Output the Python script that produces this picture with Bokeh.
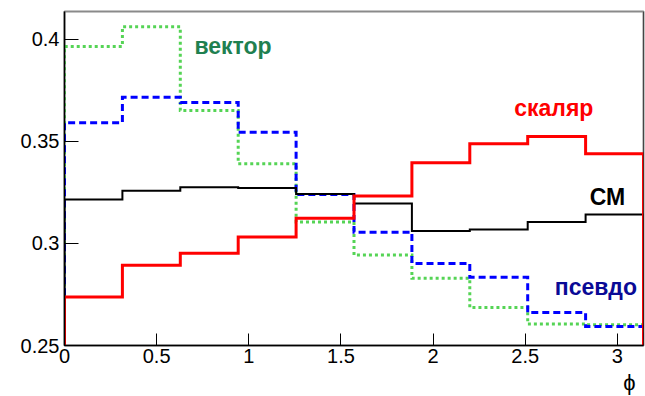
import numpy as np
from bokeh.plotting import figure
from bokeh.models import Label, Span, FixedTicker, Range1d, Title
from bokeh.embed import file_html
from bokeh.resources import INLINE

# Angular distribution of phi, 10 bins over [0, pi]
phi_min, phi_max = 0.0, np.pi
n_bins = 10

sm = [0.3215, 0.3257, 0.3275, 0.3271, 0.3242, 0.3195, 0.3061, 0.3068, 0.3105, 0.3141]
scalar = [0.2738, 0.2893, 0.2951, 0.3031, 0.3123, 0.3232, 0.3395, 0.3488, 0.3523, 0.3439]
pseudo = [0.3590, 0.3715, 0.3689, 0.3544, 0.3239, 0.3054, 0.2902, 0.2834, 0.2661, 0.2593]
vector = [0.3964, 0.4060, 0.3650, 0.3390, 0.3105, 0.2943, 0.2829, 0.2686, 0.2605, 0.2601]

x_ticks = [0, 0.5, 1, 1.5, 2, 2.5, 3]
x_tick_labels = ["0", "0.5", "1", "1.5", "2", "2.5", "3"]
y_ticks = [0.25, 0.3, 0.35, 0.4]
y_tick_labels = ["0.25", "0.3", "0.35", "0.4"]

edges = np.linspace(phi_min, phi_max, n_bins + 1)


def hist_outline(vals):
    """Outline of a histogram drawn as in 'HIST' mode, dropping to zero at both ends."""
    xs, ys = [edges[0]], [0.0]
    for i, v in enumerate(vals):
        xs += [edges[i], edges[i + 1]]
        ys += [v, v]
    xs.append(edges[-1])
    ys.append(0.0)
    return xs, ys


FONT = "Liberation Sans"

p = figure(width=645, height=396, output_backend="svg", toolbar_location=None,
           x_range=Range1d(phi_min, phi_max), y_range=Range1d(0.25, 0.4135),
           min_border_left=64, min_border_right=2, min_border_top=11, min_border_bottom=50)

p.grid.visible = False
p.background_fill_color = "white"
p.border_fill_color = "white"
p.outline_line_color = "#8a8a8a"
p.outline_line_width = 2

for ax in (p.xaxis[0], p.yaxis[0]):
    ax.axis_line_color = "black"
    ax.axis_line_width = 1.5
    ax.major_tick_line_color = "black"
    ax.major_tick_out = 0
    ax.minor_tick_line_color = None
    ax.major_label_text_font = FONT
    ax.major_label_text_font_size = "20px"
    ax.major_label_text_color = "black"

p.xaxis.ticker = FixedTicker(ticks=x_ticks)
p.xaxis.major_label_overrides = dict(zip(x_ticks, x_tick_labels))
p.xaxis.major_tick_in = 12
p.xaxis.major_label_standoff = 3

p.yaxis.ticker = FixedTicker(ticks=y_ticks)
p.yaxis.major_label_overrides = dict(zip(y_ticks, y_tick_labels))
p.yaxis.major_tick_in = 14
p.yaxis.major_label_standoff = 5

# axis title, placed at the right end under the x axis
p.add_layout(Title(text="ϕ", align="right", text_font=FONT, text_font_size="22px",
                   text_font_style="normal", text_color="black", standoff=4, offset=8),
             "below")

# right frame edge
p.add_layout(Span(location=phi_max, dimension="height", line_color="black", line_width=1))

series = [
    (vector, "#55d455", 3, "3 3"),
    (pseudo, "#0000ff", 3, "7 4"),
    (sm, "black", 2, "solid"),
    (scalar, "#ff0000", 3, "solid"),
]
for vals, color, lw, dash in series:
    xs, ys = hist_outline(vals)
    p.line(xs, ys, line_color=color, line_width=lw, line_dash=dash, line_join="miter")

labels = [
    ("вектор", 0.705, 0.3967, "#1f8050"),
    ("скаляр", 2.440, 0.3663, "#ff0000"),
    ("СМ", 2.850, 0.3229, "black"),
    ("псевдо", 2.660, 0.2787, "#0a0a96"),
]
for txt, lx, ly, col in labels:
    p.add_layout(Label(x=lx, y=ly, text=txt, text_color=col, text_font=FONT,
                       text_font_size="23px", text_font_style="bold",
                       text_baseline="alphabetic", text_align="left"))

open("out.html", "w").write(file_html(p, INLINE))
